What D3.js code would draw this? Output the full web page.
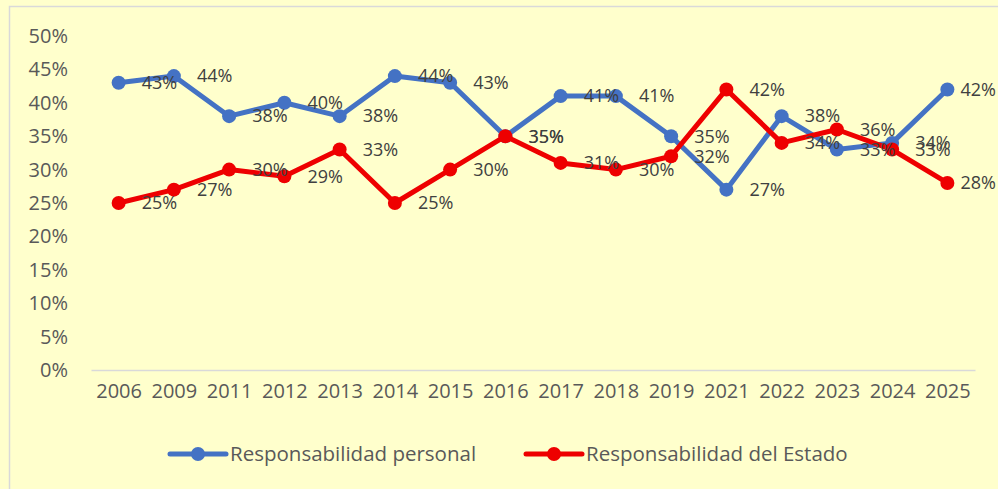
<!DOCTYPE html>
<html>
<head>
<meta charset="utf-8">
<script src="https://cdn.jsdelivr.net/npm/d3@7"></script>
<style>
  body { margin: 0; background: #FFFFCC; }
  svg { display: block; font-family: "Open Sans", sans-serif; }
</style>
</head>
<body>
<script>
// data
var years = ["2006","2009","2011","2012","2013","2014","2015","2016","2017","2018","2019","2021","2022","2023","2024","2025"];
var personal = [43,44,38,40,38,44,43,35,41,41,35,27,38,33,34,42];
var estado   = [25,27,30,29,33,25,30,35,31,30,32,42,34,36,33,28];
var yTicks = [0,5,10,15,20,25,30,35,40,45,50];
var seriesNames = ["Responsabilidad personal", "Responsabilidad del Estado"];
var seriesColors = ["#4472C4", "#EE0000"];

var W = 998, H = 489;
var plotLeft = 91, plotRight = 975, plotTop = 36, plotBottom = 370;

var svg = d3.select("body").append("svg")
    .attr("width", W)
    .attr("height", H);

svg.append("rect")
    .attr("width", W).attr("height", H)
    .attr("fill", "#FFFFCC");

// chart area border (runs off the right / bottom)
svg.append("rect")
    .attr("x", 9.5).attr("y", 6.5)
    .attr("width", W + 20).attr("height", H + 20)
    .attr("fill", "none")
    .attr("stroke", "#D9D9D9")
    .attr("stroke-width", 1.5);

var x = d3.scalePoint().domain(years).range([plotLeft, plotRight]).padding(0.5);
var y = d3.scaleLinear().domain([0, 50]).range([plotBottom, plotTop]);

// axes
var xAxis = svg.append("g")
    .attr("transform", `translate(0, ${plotBottom})`)
    .call(d3.axisBottom(x).tickSize(0).tickSizeOuter(0).tickPadding(14));
xAxis.select(".domain").attr("stroke", "#D9D9D9").attr("stroke-width", 1.5);
xAxis.selectAll("text")
    .attr("fill", "#595959")
    .style("font-size", "20px")
    .style("font-family", "Open Sans, sans-serif");

var yAxis = svg.append("g")
    .attr("transform", `translate(${plotLeft}, 0)`)
    .call(d3.axisLeft(y).tickValues(yTicks).tickSize(0).tickPadding(23).tickFormat(function(d){ return d + "%"; }));
yAxis.select(".domain").remove();
yAxis.selectAll("text")
    .attr("fill", "#595959")
    .style("font-size", "20px")
    .style("font-family", "Open Sans, sans-serif");

var line = d3.line()
    .x(function(d, i) { return x(years[i]); })
    .y(function(d) { return y(d); });

function drawSeries(values, color) {
  var g = svg.append("g");
  g.append("path")
      .datum(values)
      .attr("d", line)
      .attr("fill", "none")
      .attr("stroke", color)
      .attr("stroke-width", 5)
      .attr("stroke-linejoin", "round");
  g.selectAll("circle")
      .data(values)
      .enter().append("circle")
      .attr("cx", function(d, i) { return x(years[i]); })
      .attr("cy", function(d) { return y(d); })
      .attr("r", 7)
      .attr("fill", color);
  return g;
}

function drawLabels(values) {
  svg.append("g").selectAll("text")
      .data(values)
      .enter().append("text")
      .attr("x", function(d, i) { return x(years[i]) + 23; })
      .attr("y", function(d) { return y(d); })
      .attr("dy", "0.35em")
      .attr("fill", "#404040")
      .style("font-size", "18px")
      .text(function(d) { return d + "%"; })
      .each(function() {
        // keep labels inside the chart, like Excel does
        var t = d3.select(this);
        var w = this.getComputedTextLength();
        var lx = +t.attr("x");
        if (lx + w > W - 2) t.attr("x", W - 2 - w);
      });
}

drawSeries(personal, seriesColors[0]);
drawSeries(estado, seriesColors[1]);
drawLabels(personal);
drawLabels(estado);

// legend
var legendX = [170, 526];
var legend = svg.append("g");
seriesNames.forEach(function(name, i) {
  var lx = legendX[i], ly = 454;
  legend.append("line")
      .attr("x1", lx).attr("x2", lx + 56)
      .attr("y1", ly).attr("y2", ly)
      .attr("stroke", seriesColors[i])
      .attr("stroke-width", 5)
      .attr("stroke-linecap", "round");
  legend.append("circle")
      .attr("cx", lx + 28).attr("cy", ly).attr("r", 7)
      .attr("fill", seriesColors[i]);
  legend.append("text")
      .attr("x", lx + 60).attr("y", ly)
      .attr("dy", "0.35em")
      .attr("fill", "#595959")
      .style("font-size", "20.5px")
      .text(name);
});
</script>
</body>
</html>
